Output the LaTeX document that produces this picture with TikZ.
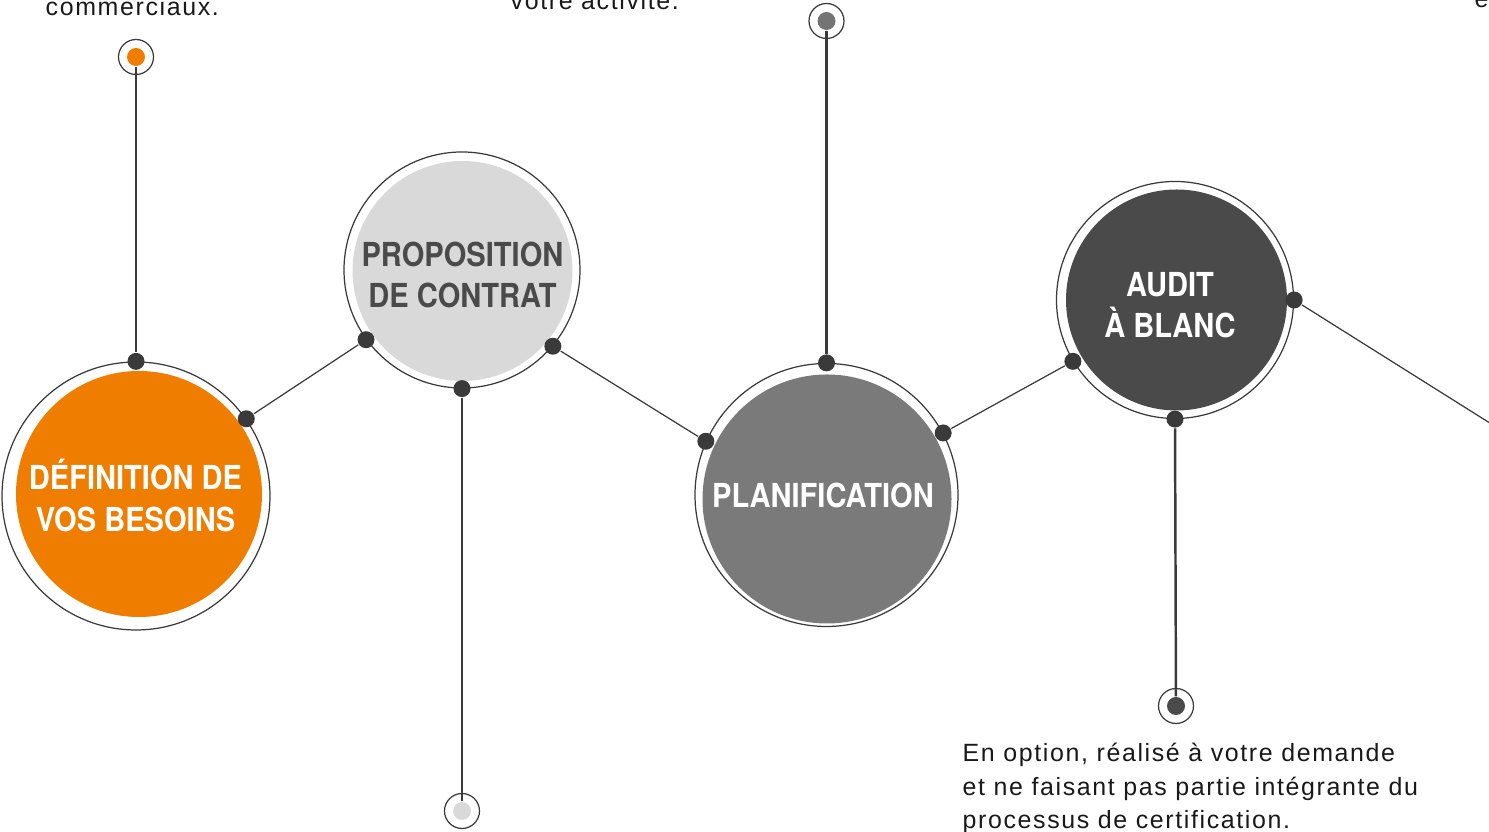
\documentclass[tikz,border=0pt]{standalone}
\usepackage{fontspec}
\setmainfont{Liberation Sans}[LetterSpace=6.5]
\newfontfamily\stepfont{TeX Gyre Heros}[FakeStretch=0.88]
\usetikzlibrary{positioning}

\definecolor{orangeA}{RGB}{239,125,0}
\definecolor{greyLight}{RGB}{217,217,217}
\definecolor{greyMid}{RGB}{122,122,122}
\definecolor{greyDark}{RGB}{74,74,74}
\definecolor{wire}{RGB}{58,58,58}

\begin{document}
\begin{tikzpicture}[
    ring/.style={draw=wire, line width=0.35pt, circle, inner sep=0pt},
    disc/.style={circle, inner sep=0pt},
    caption/.style={inner sep=0pt, align=center,
        font=\stepfont\bfseries\fontsize{9.4}{11.7}\selectfont},
    joint/.style={circle, fill=wire, inner sep=0pt, minimum size=0.17cm},
    tip/.style={draw=wire, line width=0.35pt, circle, inner sep=0pt,
        minimum size=0.35cm},
    tipcore/.style={circle, inner sep=0pt, minimum size=0.18cm},
    link/.style={draw=wire, line width=0.35pt},
    stem/.style={draw=wire, line width=0.7pt},
    note/.style={inner sep=0pt, align=left, text=black!90,
        font=\fontsize{7.1}{9.67}\selectfont},
  ]
    \useasboundingbox (0,0) rectangle (14.89,8.32);
    \clip (0,0) rectangle (14.89,8.32);

    % the four steps
    \node[ring, minimum size=2.68cm] (Def) at (1.36,3.36) {};
    \node[disc, fill=orangeA, minimum size=2.46cm] (DefIn) at (1.39,3.38) {};
    \node[caption, text=white] (DefTxt) at (1.355,3.365)
        {DÉFINITION DE\\VOS BESOINS};

    \node[ring, minimum size=2.36cm] (Prop) at (4.62,5.62) {};
    \node[disc, fill=greyLight, minimum size=2.20cm] (PropIn) at (4.625,5.61) {};
    \node[caption, text=greyDark] (PropTxt) at (4.625,5.57)
        {PROPOSITION\\DE CONTRAT};

    \node[ring, minimum size=2.63cm] (Plan) at (8.265,3.37) {};
    \node[disc, fill=greyMid, minimum size=2.49cm] (PlanIn) at (8.27,3.33) {};
    \node[caption, text=white] (PlanTxt) at (8.23,3.365) {PLANIFICATION};

    \node[ring, minimum size=2.37cm] (Aud) at (11.75,5.32) {};
    \node[disc, fill=greyDark, minimum size=2.21cm] (AudIn) at (11.765,5.32) {};
    \node[caption, text=white] (AudTxt) at (11.70,5.27) {AUDIT\\À BLANC};

    % joints on the rings
    \node[joint] (DefN) at (Def.90) {};
    \node[joint] (DefE) at (Def.35) {};
    \node[joint] (PropW) at (Prop.216) {};
    \node[joint] (PropE) at (Prop.-40) {};
    \node[joint] (PropS) at (Prop.-90) {};
    \node[joint] (PlanN) at (Plan.90) {};
    \node[joint] (PlanW) at (Plan.156) {};
    \node[joint] (PlanE) at (Plan.28) {};
    \node[joint] (AudW) at (Aud.211) {};
    \node[joint] (AudE) at (Aud.0) {};
    \node[joint] (AudS) at (Aud.-90) {};
    \coordinate (Next) at (15.2,3.9);

    % end points of the stems
    \node[tip] (DefTip) at (1.36,7.75) {};
    \node[tipcore, fill=orangeA] (DefCore) at (DefTip) {};
    \node[tip] (PropTip) at (4.62,0.21) {};
    \node[tipcore, fill=greyLight] (PropCore) at (PropTip) {};
    \node[tip] (PlanTip) at (8.265,8.11) {};
    \node[tipcore, fill=greyMid!95!black] (PlanCore) at (PlanTip) {};
    \node[tip] (AudTip) at (11.76,1.26) {};
    \node[tipcore, fill=greyDark] (AudCore) at (AudTip) {};

    \path[link] (DefE) -- (PropW);
    \path[link] (PropE) -- (PlanW);
    \path[link] (PlanE) -- (AudW);
    \path[link] (AudE) -- (Next);

    \path[stem] (DefN) -- (DefCore);
    \path[stem] (PropS) -- (PropCore);
    \path[stem] (PlanN) -- (PlanCore);
    \path[stem] (AudS) -- (AudCore);

    % texts
    \node[note, anchor=base west] (PrevDef) at (0.45,8.16) {commerciaux.};
    \node[note, anchor=base west] (PrevProp) at (5.10,8.22) {votre activité.};
    \node[note, anchor=base west] (PrevAud) at (14.74,8.24) {e};
    \node[note, anchor=base west] (Option) at (9.62,0.03)
        {En option, réalisé à votre demande\\et ne faisant pas partie intégrante du\\processus de certification.};
\end{tikzpicture}
\end{document}
